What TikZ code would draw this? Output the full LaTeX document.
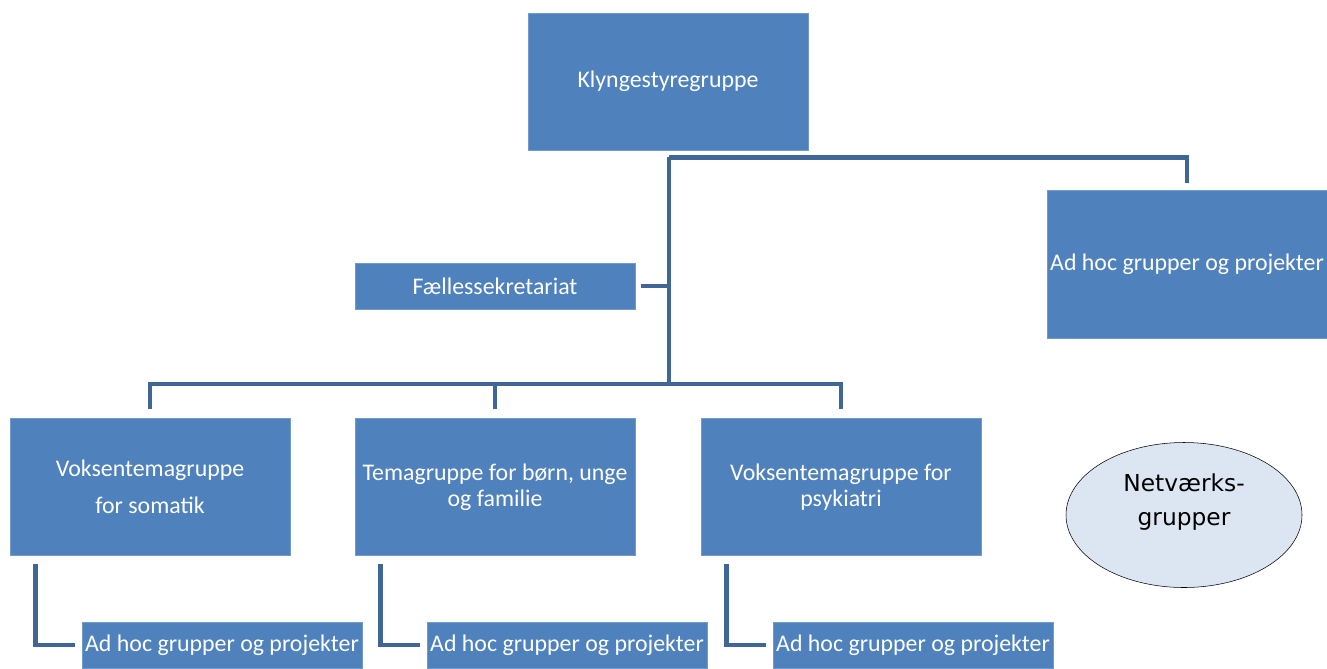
\documentclass[tikz,border=0pt]{standalone}
\usepackage{fontspec}
\setmainfont{Carlito}
\newfontfamily\verdanafont{DejaVu Sans}
\usetikzlibrary{shapes.geometric}
\definecolor{boxblue}{RGB}{79,129,189}
\definecolor{lineblue}{RGB}{64,102,152}
\definecolor{paleblue}{RGB}{220,230,242}

\begin{document}
\begin{tikzpicture}[x=0.75pt, y=-0.75pt]
    \useasboundingbox (0, 0) rectangle (1327, 668);
    \tikzset{GroupBox/.style={rectangle, fill=boxblue, draw=boxblue!80!white, text=white, align=center, font=\fontsize{17.9}{19.5}\selectfont, inner sep=1pt}}
    \tikzset{BigBox/.style={GroupBox, minimum width=210pt, minimum height=102.75pt}}
    \tikzset{SmallBox/.style={GroupBox, minimum width=210pt, minimum height=34.5pt}}
    \tikzset{Link/.style={draw=lineblue, line width=3.6pt}}
    \node[BigBox] (klynge) at (668, 81.5) {Klyngestyregruppe}; % top
    \node[BigBox, minimum height=111pt] (adhoc-top) at (1187, 264) {Ad hoc grupper og projekter}; % right
    \node[SmallBox] (sekretariat) at (495, 286) {Fællessekretariat}; % staff
    \node[BigBox] (tema-1) at (150, 487) {Voksentemagruppe\\[8.25pt] for somatik}; % adults, somatic
    \node[BigBox] (tema-2) at (495, 487) {Temagruppe for børn, unge\\og familie}; % children
    \node[BigBox] (tema-3) at (841, 487) {Voksentemagruppe for\\psykiatri}; % adults, psychiatry
    \node[SmallBox] (adhoc-1) at (222, 645) {Ad hoc grupper og projekter}; % under tema-1
    \node[SmallBox] (adhoc-2) at (567, 645) {Ad hoc grupper og projekter}; % under tema-2
    \node[SmallBox] (adhoc-3) at (913, 645) {Ad hoc grupper og projekter}; % under tema-3
    \node[ellipse, draw=black, fill=paleblue, inner sep=0pt, minimum width=177pt, minimum height=108.75pt,
        label={[align=center, yshift=9.75pt, font=\verdanafont\fontsize{17.5}{26}\selectfont]center:Netværks-\\grupper}] (netvaerk) at (1184, 515) {}; % networks

    \coordinate (hub) at (669, 384);
    \draw[Link] ([xshift=0.75pt, yshift=-5.25pt]klynge.south) -| ([yshift=5.25pt]adhoc-top.north);
    \draw[Link] ([xshift=0.75pt, yshift=-5.25pt]klynge.south) -- (hub);
    \draw[Link] ([xshift=4.5pt]sekretariat.east) -- (sekretariat.east -| hub);
    \draw[Link] (hub) -| ([yshift=6.75pt]tema-1.north);
    \draw[Link] ([yshift=6.75pt]tema-2.north) |- (hub);
    \draw[Link] (hub) -| ([yshift=6.75pt]tema-3.north);
    \draw[Link] ([xshift=19.5pt, yshift=-6pt]tema-1.south west) |- ([xshift=-5.25pt]adhoc-1.west);
    \draw[Link] ([xshift=19.5pt, yshift=-6pt]tema-2.south west) |- ([xshift=-5.25pt]adhoc-2.west);
    \draw[Link] ([xshift=19.5pt, yshift=-6pt]tema-3.south west) |- ([xshift=-5.25pt]adhoc-3.west);
\end{tikzpicture}
\end{document}
